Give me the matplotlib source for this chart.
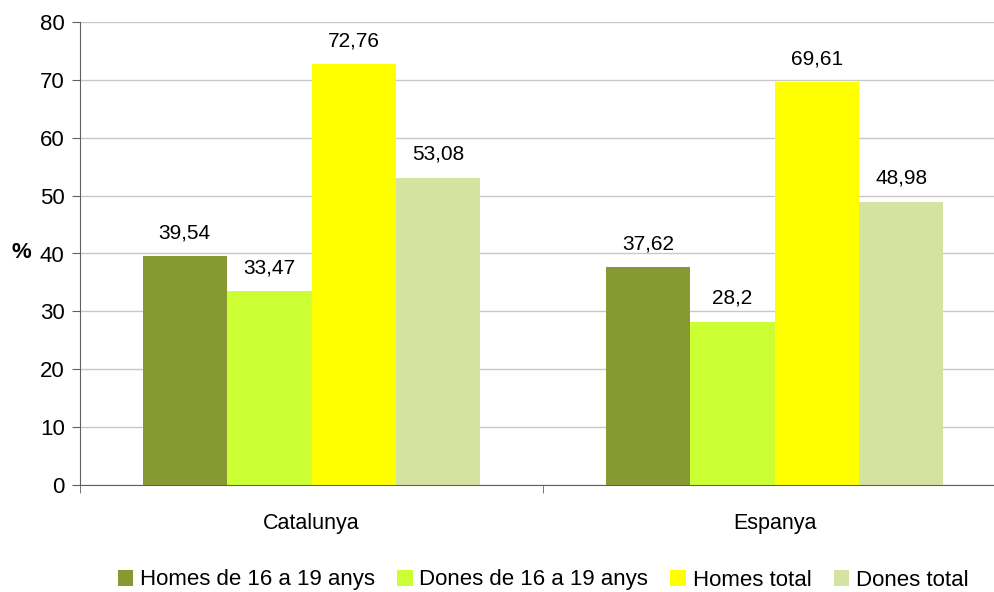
import matplotlib.pyplot as plt
import numpy as np

plt.rcParams["font.family"] = ["Liberation Sans", "DejaVu Sans"]

regions = ["Catalunya", "Espanya"]
series_names = ["Homes de 16 a 19 anys", "Dones de 16 a 19 anys", "Homes total", "Dones total"]
homes_16_19 = [39.54, 37.62]
dones_16_19 = [33.47, 28.2]
homes_total = [72.76, 69.61]
dones_total = [53.08, 48.98]
colors = ["#879933", "#CCFF33", "#FFFF00", "#D5E3A0"]


def fmt(v):
    return f"{v:g}".replace(".", ",")


def main():
    fig = plt.figure(figsize=(9.95, 5.92), dpi=100)
    ax = fig.add_axes([80 / 995, 1 - 485 / 592, 926 / 995, 463 / 592])

    x = np.arange(len(regions))
    width = 0.73 / 4
    values = [homes_16_19, dones_16_19, homes_total, dones_total]
    for i, (name, vals, col) in enumerate(zip(series_names, values, colors)):
        pos = x + (i - 1.5) * width
        ax.bar(pos, vals, width, color=col, label=name, zorder=2)
        for px, v in zip(pos, vals):
            ax.annotate(fmt(v), (px, v), xytext=(0, 10), textcoords="offset points",
                        ha="center", va="bottom", fontsize=15)

    ax.set_xlim(-0.5, 1.5)
    ax.set_ylim(0, 80)
    ax.set_yticks(range(0, 81, 10))
    ax.yaxis.grid(True, color="#C8C8C8", linewidth=1, zorder=0)
    ax.set_axisbelow(True)

    ax.set_xticks(x)
    ax.set_xticklabels(regions, fontsize=15.5)
    ax.tick_params(axis="x", which="major", length=0, pad=20)
    ax.set_xticks([-0.5, 0.5, 1.5], minor=True)
    ax.tick_params(axis="x", which="minor", length=6, color="#606060", direction="out")
    ax.tick_params(axis="y", labelsize=16, length=6, color="#606060", pad=5)

    for s in ["top", "right"]:
        ax.spines[s].set_visible(False)
    for s in ["left", "bottom"]:
        ax.spines[s].set_color("#606060")

    fig.text(21 / 995, 1 - 252 / 592, "%", fontsize=16, fontweight="bold",
             ha="center", va="center")

    fig.legend(loc="center", bbox_to_anchor=(543 / 995, 1 - 580 / 592), ncol=4,
               frameon=False, fontsize=16, handlelength=0.7, handleheight=0.7,
               handletextpad=0.3, columnspacing=1.0)

    fig.savefig("out.png", dpi=100)


if __name__ == "__main__":
    main()
